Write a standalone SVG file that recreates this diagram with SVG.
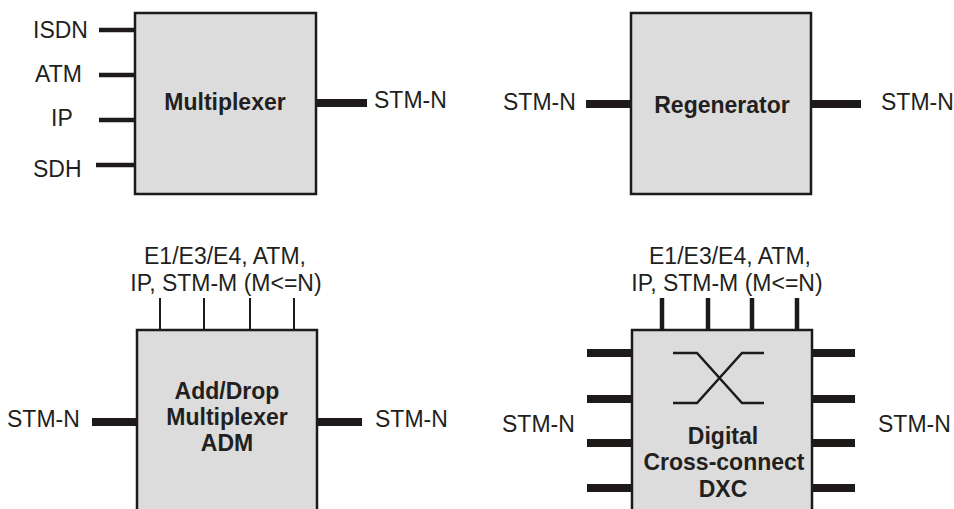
<svg xmlns="http://www.w3.org/2000/svg" width="954" height="509" viewBox="0 0 954 509">
<style>
.box{fill:#dcdcdc;stroke:#1e1a1a;stroke-width:2.5}
.t{font-family:"Liberation Sans",Arial,sans-serif;font-size:23px;fill:#231f20}
.b{font-family:"Liberation Sans",Arial,sans-serif;font-size:23px;font-weight:bold;fill:#231f20;text-anchor:middle}
.thick{stroke:#1e1a1a;stroke-width:8;fill:none}
.mid{stroke:#1e1a1a;stroke-width:4.5;fill:none}
.thin{stroke:#1e1a1a;stroke-width:2;fill:none}
</style>
<rect width="954" height="509" fill="#fff"/>
<g id="connectors">
  <line class="mid" x1="99" y1="30" x2="135" y2="30"/>
  <line class="mid" x1="99" y1="75" x2="135" y2="75"/>
  <line class="mid" x1="99" y1="120" x2="135" y2="120"/>
  <line class="mid" x1="96" y1="165" x2="135" y2="165"/>
  <line class="thick" x1="316" y1="103" x2="367" y2="103"/>
  <line class="thick" x1="586" y1="104" x2="631" y2="104"/>
  <line class="thick" x1="811" y1="104" x2="861" y2="104"/>
  <line class="thin" x1="160" y1="298" x2="160" y2="330"/>
  <line class="thin" x1="204" y1="298" x2="204" y2="330"/>
  <line class="thin" x1="250" y1="298" x2="250" y2="330"/>
  <line class="thin" x1="294" y1="298" x2="294" y2="330"/>
  <line class="thick" x1="92" y1="422" x2="137" y2="422"/>
  <line class="thick" x1="317" y1="422" x2="362" y2="422"/>
  <line class="mid" x1="662" y1="298" x2="662" y2="330"/>
  <line class="mid" x1="708" y1="298" x2="708" y2="330"/>
  <line class="mid" x1="752" y1="298" x2="752" y2="330"/>
  <line class="mid" x1="797" y1="298" x2="797" y2="330"/>
  <line class="thick" x1="587" y1="353" x2="632" y2="353"/>
  <line class="thick" x1="587" y1="399" x2="632" y2="399"/>
  <line class="thick" x1="587" y1="443" x2="632" y2="443"/>
  <line class="thick" x1="587" y1="488" x2="632" y2="488"/>
  <line class="thick" x1="812" y1="353" x2="855" y2="353"/>
  <line class="thick" x1="812" y1="399" x2="855" y2="399"/>
  <line class="thick" x1="812" y1="443" x2="855" y2="443"/>
  <line class="thick" x1="812" y1="488" x2="855" y2="488"/>
</g>
<g id="labels">
  <text class="t" x="33" y="38">ISDN</text>
  <text class="t" x="35" y="82">ATM</text>
  <text class="t" x="51" y="126">IP</text>
  <text class="t" x="33" y="177">SDH</text>
  <text class="t" x="374" y="108">STM-N</text>
  <text class="t" x="503" y="110">STM-N</text>
  <text class="t" x="881" y="110">STM-N</text>
  <text class="t" x="225" y="264" text-anchor="middle">E1/E3/E4, ATM,</text>
  <text class="t" x="226" y="291" text-anchor="middle">IP, STM-M (M&lt;=N)</text>
  <text class="t" x="7" y="427">STM-N</text>
  <text class="t" x="375" y="427">STM-N</text>
  <text class="t" x="730" y="264" text-anchor="middle">E1/E3/E4, ATM,</text>
  <text class="t" x="727" y="291" text-anchor="middle">IP, STM-M (M&lt;=N)</text>
  <text class="t" x="502" y="432">STM-N</text>
  <text class="t" x="878" y="432">STM-N</text>
</g>
<g id="multiplexer">
  <rect class="box" x="135" y="13" width="181" height="181"/>
  <text class="b" x="225" y="110">Multiplexer</text>
</g>
<g id="regenerator">
  <rect class="box" x="631" y="13" width="180" height="181"/>
  <text class="b" x="722" y="113">Regenerator</text>
</g>
<g id="adm">
  <rect class="box" x="137" y="330" width="180" height="200"/>
  <text class="b" x="227" y="399">Add/Drop</text>
  <text class="b" x="227" y="425">Multiplexer</text>
  <text class="b" x="227" y="451">ADM</text>
</g>
<g id="dxc">
  <rect class="box" x="632" y="330" width="180" height="200"/>
  <path class="thin" style="stroke-width:2.5" d="M673,353 H697 L742,403 H764 M673,403 H697 L742,353 H764"/>
  <text class="b" x="723" y="444">Digital</text>
  <text class="b" x="724" y="470">Cross-connect</text>
  <text class="b" x="723" y="497">DXC</text>
</g>
</svg>
